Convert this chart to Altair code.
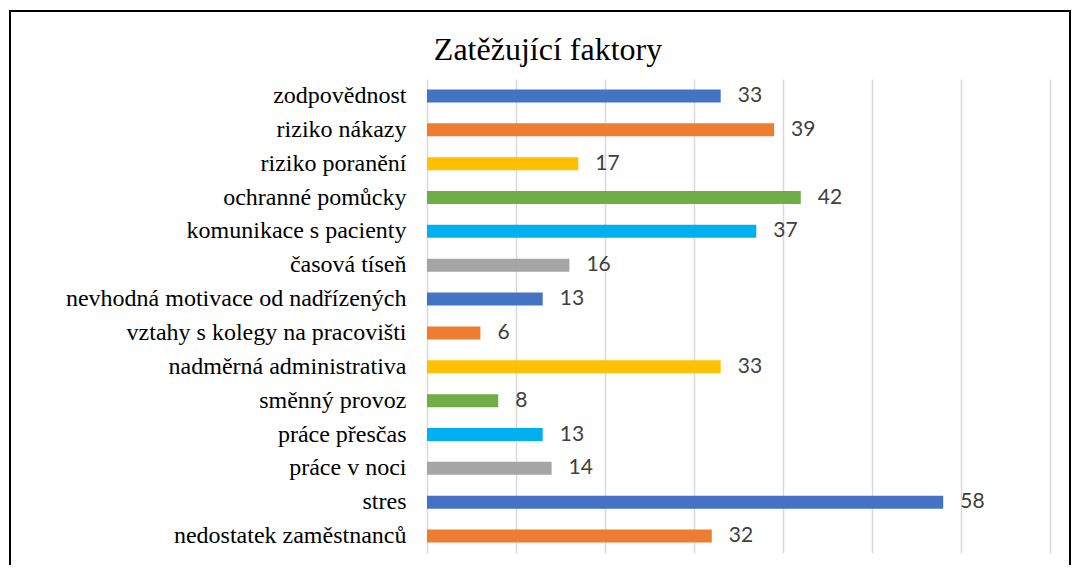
import altair as alt
import pandas as pd

TITLE = "Zatěžující faktory"
categories = [
    "zodpovědnost",
    "riziko nákazy",
    "riziko poranění",
    "ochranné pomůcky",
    "komunikace s pacienty",
    "časová tíseň",
    "nevhodná motivace od nadřízených",
    "vztahy s kolegy na pracovišti",
    "nadměrná administrativa",
    "směnný provoz",
    "práce přesčas",
    "práce v noci",
    "stres",
    "nedostatek zaměstnanců",
]
values = [33, 39, 17, 42, 37, 16, 13, 6, 33, 8, 13, 14, 58, 32]
palette = ["#4472C4", "#ED7D31", "#FFC000", "#70AD47", "#00B0F0", "#A5A5A5"]

df = pd.DataFrame({"cat": categories, "val": values})
one = pd.DataFrame({"t": [TITLE]})
color_range = [palette[i % len(palette)] for i in range(len(categories))]

W, H = 623, 474
PAD_L, PAD_T, PAD_R, PAD_B = 419, 71, 23, 12

y_enc = alt.Y(
    "cat:N",
    sort=categories,
    scale=alt.Scale(paddingInner=0.616, paddingOuter=0.308),
    axis=alt.Axis(
        title=None, ticks=False, domain=False, labelPadding=21,
        labelFont="Liberation Serif", labelFontSize=24, labelColor="#000000",
        labelLimit=500, grid=False,
    ),
)
x_enc = alt.X(
    "val:Q",
    scale=alt.Scale(domain=[0, 70], nice=False),
    axis=alt.Axis(
        title=None, labels=False, ticks=False, domain=False, grid=True,
        values=[0, 10, 20, 30, 40, 50, 60, 70],
        gridColor="#D9D9D9", gridWidth=1.5,
    ),
)

bars = alt.Chart(df).mark_bar().encode(
    x=x_enc,
    y=y_enc,
    color=alt.Color("cat:N", scale=alt.Scale(domain=categories, range=color_range), legend=None),
)

labels = alt.Chart(df).mark_text(
    align="left", baseline="middle", dx=17, font="Lato", fontSize=21, color="#404040"
).encode(x="val:Q", y=alt.Y("cat:N", sort=categories), text="val:Q")

title = alt.Chart(one).mark_text(
    font="Liberation Serif", fontSize=32, color="#000000", fontWeight="normal",
    align="center", baseline="alphabetic",
).encode(x=alt.value(121), y=alt.value(-19), text="t:N")

frame = alt.Chart(one).mark_rect(
    filled=False, stroke="#000000", strokeWidth=2
).encode(
    x=alt.value(-417), x2=alt.value(W + PAD_R - 3),
    y=alt.value(-68), y2=alt.value(H + 60),
)

chart = alt.layer(bars, labels, title, frame).properties(
    width=W, height=H,
    padding={"left": PAD_L, "top": PAD_T, "right": PAD_R, "bottom": PAD_B},
    autosize=alt.AutoSizeParams(type="none"),
    background="#FFFFFF",
).configure_view(strokeWidth=0, stroke="transparent")

chart.save("out.html", embed_options={"renderer": "svg", "actions": False})
